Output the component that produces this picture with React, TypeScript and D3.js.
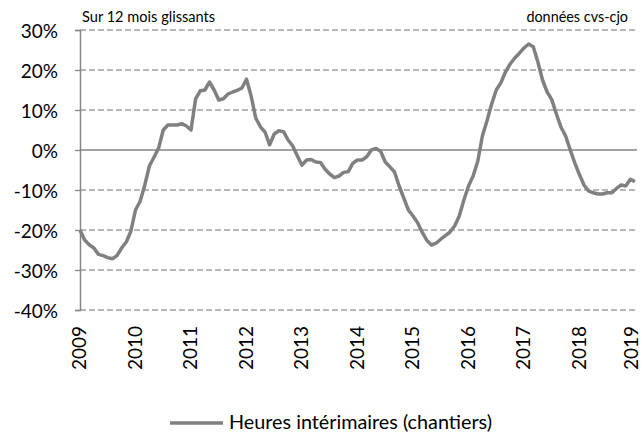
import React, { useEffect, useRef } from "react";
import * as d3 from "d3";

// monthly, Jan 2009 -> Jan 2019, % change over 12 rolling months
const values: number[] = [
  -20, -22.5, -23.7, -24.5, -26.1, -26.4, -26.9, -27.2, -26.4, -24.5, -23, -20.3,
  -15, -12.8, -8.8, -4, -1.8, 0.5, 5, 6.25, 6.25, 6.25, 6.6, 6,
  5, 12.8, 14.8, 15, 17, 15, 12.5, 12.8, 14, 14.5, 14.9, 15.5,
  17.7, 13.5, 8, 5.8, 4.5, 1.3, 4, 4.8, 4.6, 2.5, 1, -1.5,
  -3.8, -2.5, -2.4, -3, -3.1, -4.8, -6, -6.9, -6.5, -5.6, -5.4, -3.3,
  -2.5, -2.5, -1.7, 0, 0.4, -0.3, -3, -4.2, -5.5, -9, -12, -15,
  -16.5, -18.2, -20.6, -22.6, -23.75, -23.3, -22.3, -21.4, -20.5, -19, -16.5, -12.5,
  -9, -6.5, -2.8, 3.5, 7.3, 11.5, 15, 16.8, 19.5, 21.5, 23, 24.2,
  25.5, 26.5, 25.8, 22, 17.5, 14.5, 12.6, 9, 5.7, 3.5, 0, -3.3,
  -6.2, -8.8, -10.3, -10.7, -11, -11, -10.7, -10.7, -9.6, -8.75, -9, -7.3,
  -7.9,
];
const years: number[] = d3.range(2009, 2020);
const yTicks: number[] = [-40, -30, -20, -10, 0, 10, 20, 30];
const seriesName = "Heures intérimaires (chantiers)";
const noteLeft = "Sur 12 mois glissants";
const noteRight = "données cvs-cjo";

const App = () => {
  const svgRef = useRef<SVGSVGElement>(null);

  useEffect(() => {
    const svg = d3.select(svgRef.current);
    svg.selectAll("*").remove();

    const font = "Lato, 'Open Sans', sans-serif";
    const x = d3.scaleLinear().domain([2009, 2019]).range([80, 635]);
    const y = d3.scaleLinear().domain([-40, 30]).range([310, 30]);

    // gridlines
    svg
      .append("g")
      .selectAll("line")
      .data(yTicks.filter((t) => t !== 0))
      .join("line")
      .attr("x1", 80)
      .attr("x2", 637)
      .attr("y1", (d) => y(d))
      .attr("y2", (d) => y(d))
      .attr("stroke", "#a0a0a0")
      .attr("stroke-width", 1.3)
      .attr("stroke-dasharray", "6,3");

    // zero line
    svg
      .append("line")
      .attr("x1", 80)
      .attr("x2", 637)
      .attr("y1", y(0))
      .attr("y2", y(0))
      .attr("stroke", "#868686")
      .attr("stroke-width", 1.5);

    // y axis
    const yAxis = d3
      .axisLeft(y)
      .tickValues(yTicks)
      .tickSize(5)
      .tickPadding(17)
      .tickFormat((d) => `${d}%`);
    const gy = svg.append("g").attr("transform", "translate(80,0)").call(yAxis);
    gy.select(".domain").attr("stroke", "#868686").attr("stroke-width", 1.5);
    gy.selectAll(".tick line").attr("stroke", "#868686").attr("stroke-width", 1.3);
    gy.selectAll(".tick text")
      .attr("font-family", font)
      .attr("font-size", 19)
      .attr("fill", "#000")
      .attr("dy", "0.42em");

    // x labels, rotated
    svg
      .append("g")
      .selectAll("text")
      .data(years)
      .join("text")
      .attr("transform", (d) => `translate(${Math.min(x(d) + 6, 638)},326) rotate(-90)`)
      .attr("text-anchor", "end")
      .attr("font-family", font)
      .attr("font-size", 19)
      .text((d) => d);

    // series
    const line = d3
      .line<number>()
      .x((_, i) => x(2009 + i / 12))
      .y((d) => y(d));
    svg
      .append("path")
      .datum(values)
      .attr("d", line)
      .attr("fill", "none")
      .attr("stroke", "#808080")
      .attr("stroke-width", 3.5)
      .attr("stroke-linejoin", "round");

    // notes
    svg
      .append("text")
      .attr("x", 82)
      .attr("y", 22)
      .attr("font-family", font)
      .attr("font-size", 14.6)
      .text(noteLeft);
    svg
      .append("text")
      .attr("x", 628)
      .attr("y", 22)
      .attr("text-anchor", "end")
      .attr("font-family", font)
      .attr("font-size", 14.4)
      .text(noteRight);

    // legend
    svg
      .append("line")
      .attr("x1", 170)
      .attr("x2", 223)
      .attr("y1", 423)
      .attr("y2", 423)
      .attr("stroke", "#808080")
      .attr("stroke-width", 3.5);
    svg
      .append("text")
      .attr("x", 229)
      .attr("y", 429)
      .attr("font-family", font)
      .attr("font-size", 19.8)
      .text(seriesName);
  }, []);

  return (
    <svg
      ref={svgRef}
      width={642}
      height={443}
      style={{ position: "absolute", left: 0, top: 0, background: "#fff" }}
    />
  );
};

export default App;
